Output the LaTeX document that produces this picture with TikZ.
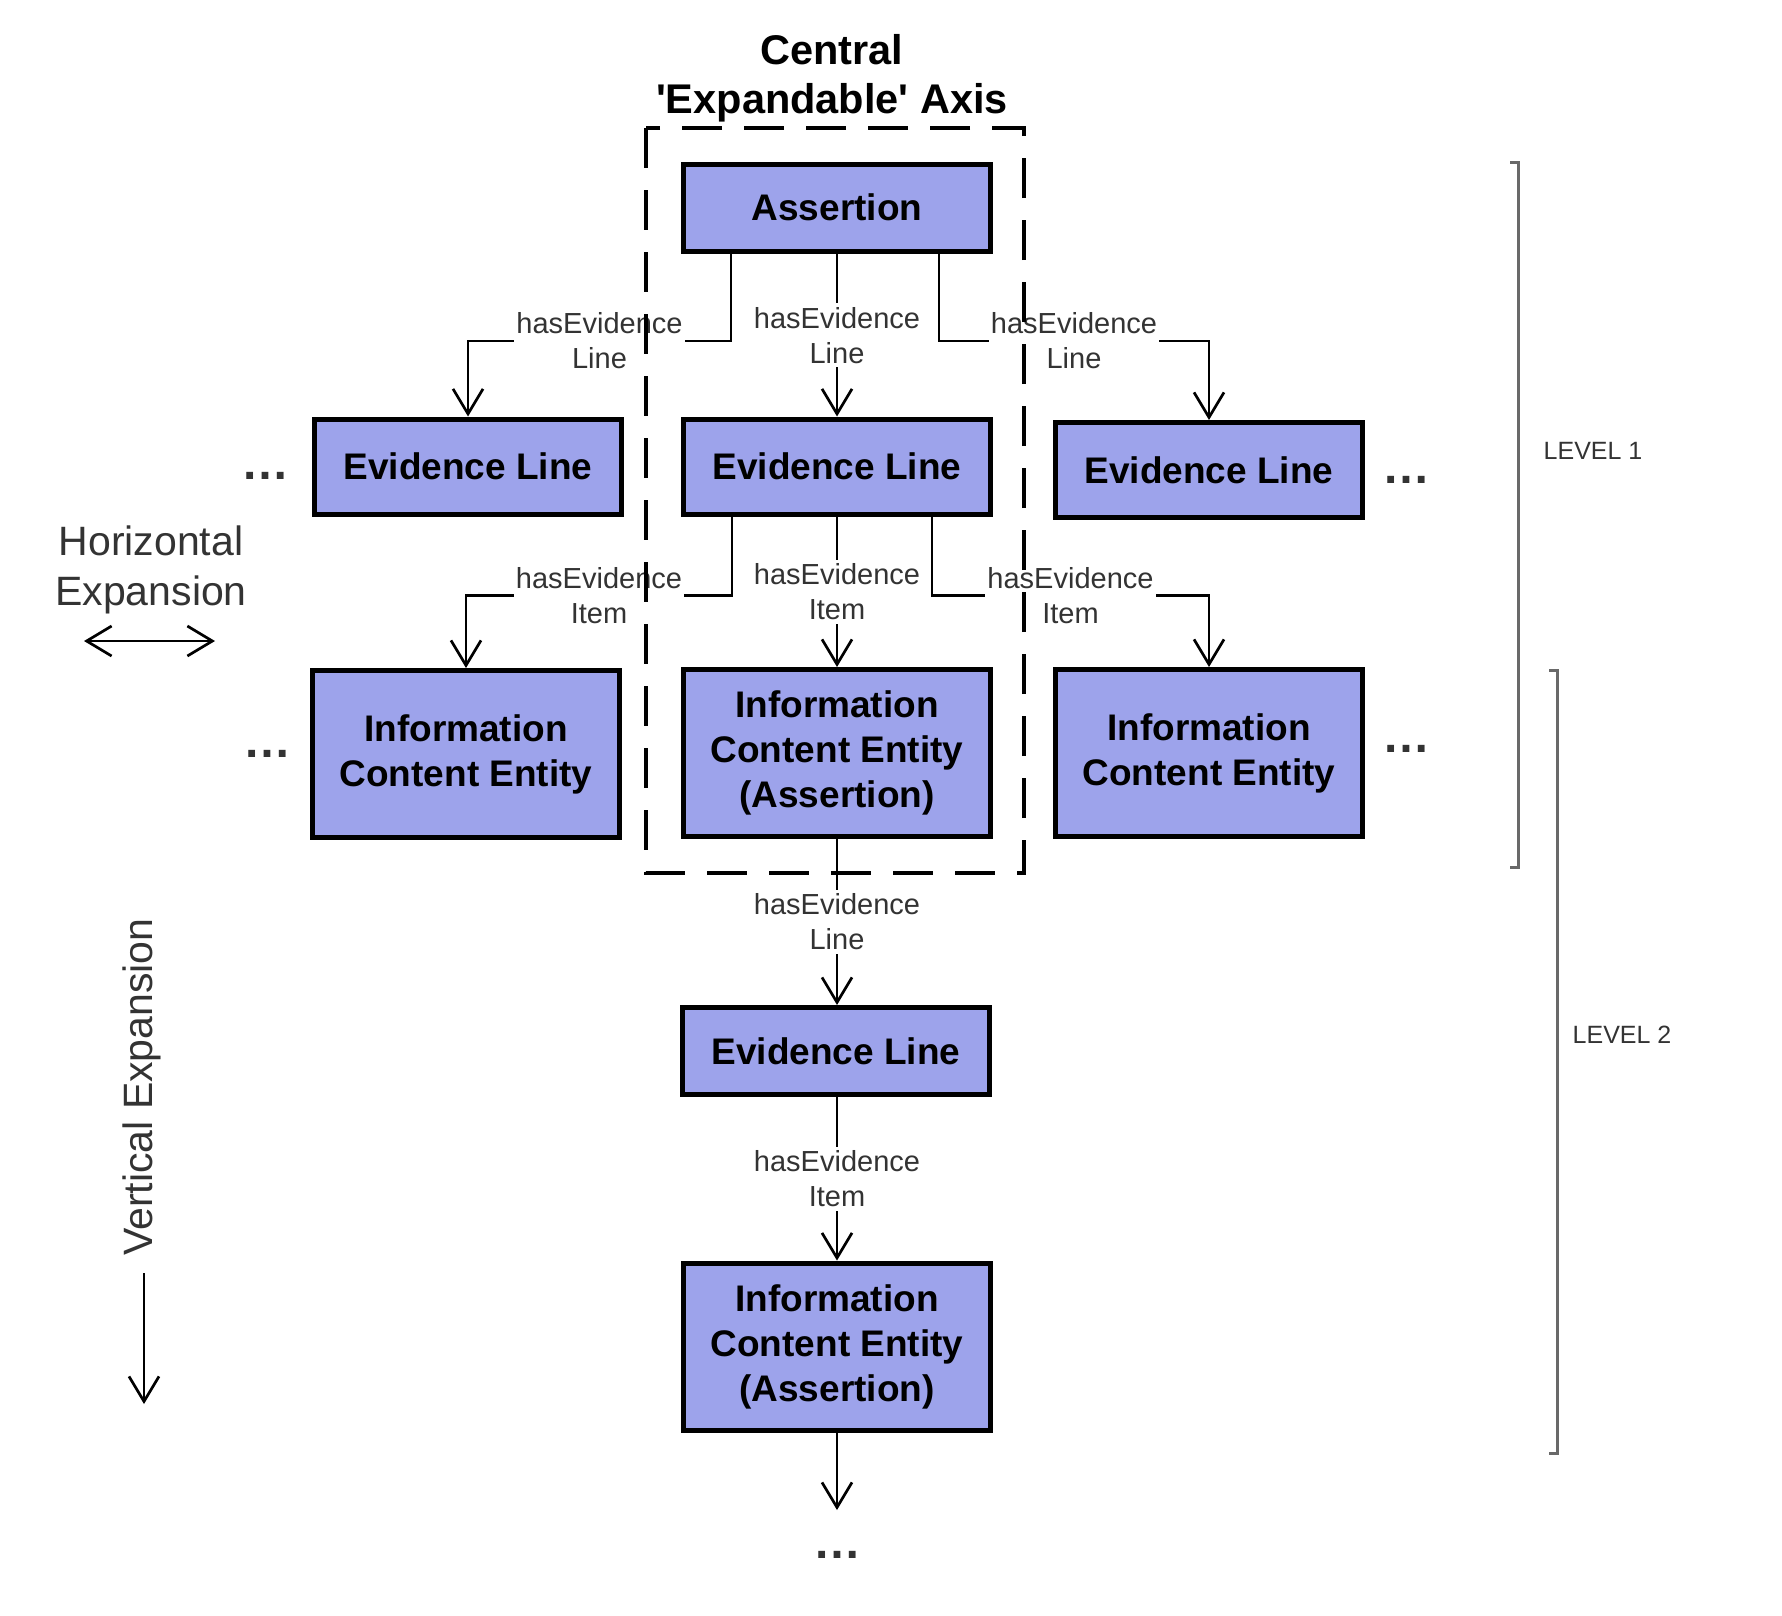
\documentclass[tikz,border=0pt]{standalone}
\usepackage{fontspec}
\setmainfont{Liberation Sans}[Ligatures=TeXOff]
\usetikzlibrary{arrows.meta}
\definecolor{boxfill}{RGB}{157,163,235}
\definecolor{txtgray}{RGB}{51,51,51}
\definecolor{brkgray}{RGB}{105,105,105}
\begin{document}
\begin{tikzpicture}[x=1pt,y=-1pt,
  box/.style={draw=black, line width=5pt, fill=boxfill, align=center,
    font=\fontsize{37}{45}\selectfont\bfseries, inner sep=0pt, minimum width=307pt},
  elbox/.style={box, minimum height=95pt},
  icebox/.style={box, minimum height=167pt},
  barb/.tip={Straight Barb[length=25pt,width=30pt]},
  conn/.style={draw=black, line width=2.7pt, -barb},
  lbl/.style={fill=white, text=txtgray, font=\fontsize{29}{35}\selectfont,
    align=center, inner xsep=2pt, inner ysep=4pt},
  dotsnode/.style={text=txtgray, font=\fontsize{48}{50}\selectfont\bfseries, anchor=base, inner sep=0pt},
  side/.style={text=txtgray, font=\fontsize{41}{50}\selectfont, align=center, inner sep=0pt},
  lvl/.style={text=txtgray, font=\fontsize{25}{30}\selectfont, inner sep=0pt},
  brk/.style={draw=brkgray, line width=3pt},
  axisbox/.style={draw=black, line width=4pt, dash pattern=on 40pt off 22pt}
]
\useasboundingbox (0,0) rectangle (1782,1615);

% title
\node[font=\fontsize{41.5}{49}\selectfont\bfseries, align=center, inner sep=0pt] (title) at (832,78) {Central\\'Expandable' Axis};

% boxes
\node[box, minimum height=87pt, text depth=2pt] (A) at (837,208) {Assertion};
\node[elbox] (EL1) at (468,466.5) {Evidence Line};
\node[elbox] (EL2) at (837,466.5) {Evidence Line};
\node[elbox] (EL3) at (1209,470) {Evidence Line};
\node[icebox] (ICE1) at (466,754) {Information\\Content Entity};
\node[icebox] (ICE2) at (837,753) {Information\\Content Entity\\(Assertion)};
\node[icebox] (ICE3) at (1209,753) {Information\\Content Entity};
\node[box, minimum height=87pt] (EL4) at (836,1051) {Evidence Line};
\node[icebox] (ICE4) at (837,1346.5) {Information\\Content Entity\\(Assertion)};

% ellipses
\node[dotsnode] (d1) at (265,479) {…};
\node[dotsnode] (d2) at (267,757) {…};
\node[dotsnode] (d3) at (1406,483) {…};
\node[dotsnode] (d4) at (1406,752) {…};
\node[dotsnode] (d5) at (837,1558) {…};

% connectors level 1
\draw[conn] ([xshift=-106pt]A.south) -- ++(0,87) -| node[lbl,pos=0.25] {hasEvidence\\Line} (EL1.north);
\draw[conn] (A.south) -- node[lbl] {hasEvidence\\Line} (EL2.north);
\draw[conn] ([xshift=102pt]A.south) -- ++(0,87) -| node[lbl,pos=0.25] {hasEvidence\\Line} (EL3.north);

\draw[conn] ([xshift=-105pt]EL2.south) -- ++(0,79) -| node[lbl,pos=0.25] {hasEvidence\\Item} (ICE1.north);
\draw[conn] (EL2.south) -- node[lbl] {hasEvidence\\Item} (ICE2.north);
\draw[conn] ([xshift=95pt]EL2.south) -- ++(0,79) -| node[lbl,pos=0.25] {hasEvidence\\Item} (ICE3.north);

% vertical chain
\draw[conn] (ICE2.south) -- node[lbl] {hasEvidence\\Line} (ICE2.south |- EL4.north);
\draw[conn] (EL4.south -| ICE4.north) -- node[lbl] {hasEvidence\\Item} (ICE4.north);
\coordinate (vend) at (837,1510);
\draw[conn] (ICE4.south) -- (vend);

% expansion hints
\node[side] (hexp) at (151,569.5) {Horizontal\\Expansion};
\coordinate (h1) at (84,641);
\coordinate (h2) at (215,641);
\draw[draw=black, line width=2.7pt, barb-barb] (h1) -- (h2);

\node[side, rotate=90] (vexp) at (142,1087) {Vertical Expansion};
\coordinate (v1) at (144,1273);
\coordinate (v2) at (144,1404);
\draw[conn] (v1) -- (v2);

% level brackets
\draw[brk] (1510,162) -- (1518,162) -- (1518,867) -- (1510,867);
\node[lvl] (lv1) at (1593,451) {LEVEL 1};
\draw[brk] (1549,670) -- (1557,670) -- (1557,1453) -- (1549,1453);
\node[lvl] (lv2) at (1622,1035) {LEVEL 2};

% central axis dashed box
\draw[axisbox] (646,128) rectangle (1024,873);
\end{tikzpicture}
\end{document}
